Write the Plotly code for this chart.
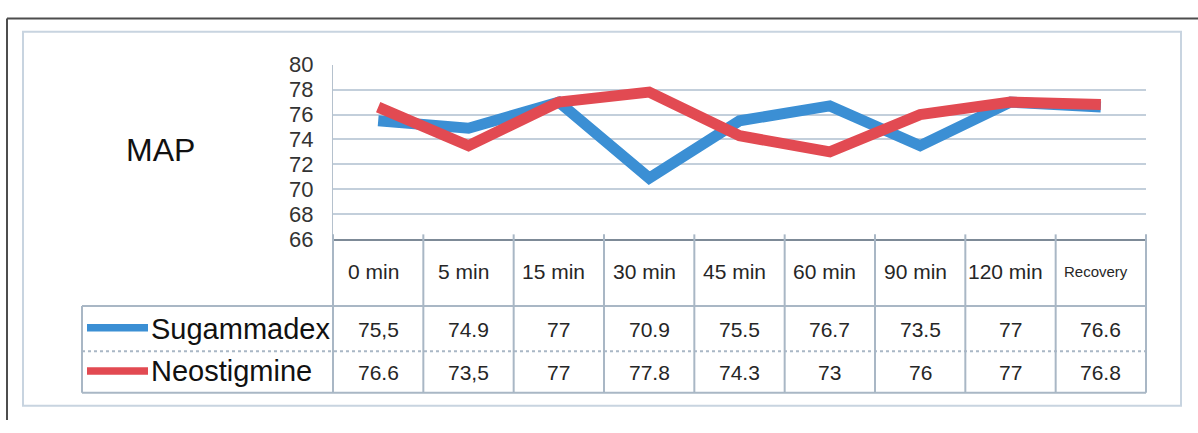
import plotly.graph_objects as go

# --- data -------------------------------------------------------------
times = ["0 min", "5 min", "15 min", "30 min", "45 min", "60 min", "90 min", "120 min", "Recovery"]
sugammadex = [75.5, 74.9, 77, 70.9, 75.5, 76.7, 73.5, 77, 76.6]
neostigmine = [76.6, 73.5, 77, 77.8, 74.3, 73, 76, 77, 76.8]
sugammadex_txt = ["75,5", "74.9", "77", "70.9", "75.5", "76.7", "73.5", "77", "76.6"]
neostigmine_txt = ["76.6", "73,5", "77", "77.8", "74.3", "73", "76", "77", "76.8"]
y_ticks = [66, 68, 70, 72, 74, 76, 78, 80]

# --- geometry (pixels) -------------------------------------------------
W, H = 1198, 433
PX_L, PX_R = 333, 1146          # plot / table column span
PY_T, PY_B = 56, 241            # plot area top (80) and bottom (66)
ROW1_T, ROW2_T, TAB_B = 312, 360, 404
LEG_L = 82

BLUE = "#3b8fd4"
RED = "#e24a52"
GRID = "#c3cfdb"
TABLE = "#a9b7c5"
FONT = "Arial, Liberation Sans, sans-serif"


def fx(x):
    return x / W


def fy(y):
    return 1 - y / H


fig = go.Figure()
fig.add_trace(go.Scatter(x=times, y=sugammadex, mode="lines", name="Sugammadex",
                         line=dict(color=BLUE, width=11)))
fig.add_trace(go.Scatter(x=times, y=neostigmine, mode="lines", name="Neostigmine",
                         line=dict(color=RED, width=11)))

shapes = []


def hline(y, x0, x1, color=TABLE, width=2, dash="solid"):
    shapes.append(dict(type="line", xref="paper", yref="paper",
                       x0=fx(x0), x1=fx(x1), y0=fy(y), y1=fy(y),
                       line=dict(color=color, width=width, dash=dash)))


def vline(x, y0, y1, color=TABLE, width=2):
    shapes.append(dict(type="line", xref="paper", yref="paper",
                       x0=fx(x), x1=fx(x), y0=fy(y0), y1=fy(y1),
                       line=dict(color=color, width=width)))


# outer frame (top and left edges) and inner chart-area frame
hline(7, 7, W, color="#4d4d4d", width=2)
vline(7, 7, H, color="#4d4d4d", width=2)
shapes.append(dict(type="rect", xref="paper", yref="paper",
                   x0=fx(23), x1=fx(1181), y0=fy(21), y1=fy(418),
                   line=dict(color="#c8d4e0", width=2)))

# data table grid
n = len(times)
col_w = (PX_R - PX_L) / n
for i in range(n + 1):
    vline(PX_L + i * col_w, PY_B - 5, TAB_B)
vline(LEG_L, ROW1_T, TAB_B)
hline(ROW1_T, LEG_L, PX_R)
hline(ROW2_T, LEG_L, PX_R, dash="dot")
hline(TAB_B, LEG_L, PX_R)

# legend keys inside the table
for color, yc in [(BLUE, 335), (RED, 381)]:
    shapes.append(dict(type="rect", xref="paper", yref="paper",
                       x0=fx(87), x1=fx(148), y0=fy(yc - 4), y1=fy(yc + 4),
                       line=dict(width=0), fillcolor=color))

annotations = []


def text(s, x, y, size=16, anchor="center", color="#262626"):
    annotations.append(dict(text=s, x=fx(x), y=fy(y), xref="paper", yref="paper",
                            xanchor=anchor, yanchor="middle", showarrow=False,
                            font=dict(family=FONT, size=size, color=color)))


text("MAP", 160, 146, size=32, color="#111111")

for i, t in enumerate(times):
    cx = PX_L + (i + 0.5) * col_w
    text(t, cx - 5, 275, size=15 if t == "Recovery" else 21)
    text(sugammadex_txt[i], cx, 337, size=21)
    text(neostigmine_txt[i], cx, 383, size=21)

text("Sugammadex", 149, 336, size=29, anchor="left", color="#111111")
text("Neostigmine", 149, 381, size=29, anchor="left", color="#111111")

fig.update_layout(
    width=W, height=H,
    margin=dict(l=0, r=0, t=0, b=0),
    paper_bgcolor="white", plot_bgcolor="white",
    showlegend=False,
    shapes=shapes,
    annotations=annotations,
    xaxis=dict(domain=[fx(PX_L), fx(PX_R)], range=[-0.5, n - 0.5],
               showticklabels=False, showgrid=False, zeroline=False,
               showline=True, linecolor="#7d8a97", linewidth=2, ticks=""),
    yaxis=dict(domain=[fy(PY_B), fy(PY_T)], range=[66, 80],
               tickvals=y_ticks, showgrid=True, gridcolor=GRID, gridwidth=2,
               zeroline=False, showline=True, linecolor="#b5c1cd", linewidth=1,
               ticks="", ticklabelstandoff=14,
               tickfont=dict(family=FONT, size=22, color="#333333")),
)

fig.write_html("out.html")
